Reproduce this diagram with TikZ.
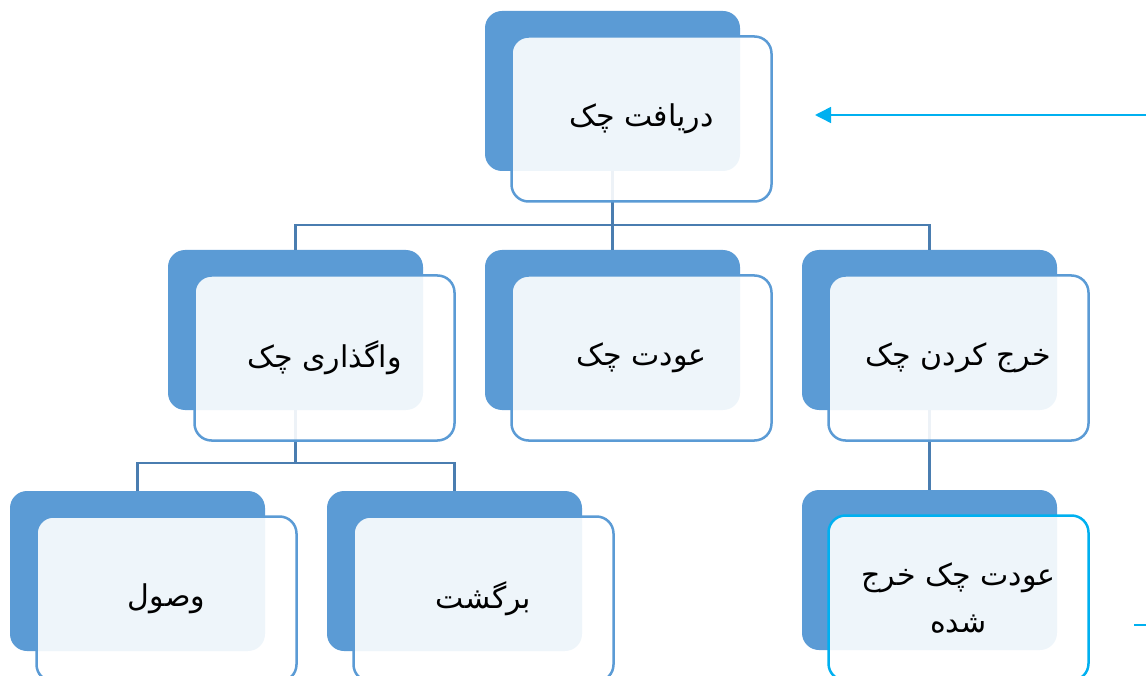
\documentclass[tikz,border=0pt]{standalone}
\usepackage{fontspec}
\newfontfamily\arabicfont[Script=Arabic]{DejaVu Sans}
\TeXXeTstate=1
\usetikzlibrary{arrows.meta,positioning}
\definecolor{boxblue}{HTML}{5B9BD5}
\definecolor{linkblue}{HTML}{4A7DB0}
\definecolor{brightcyan}{HTML}{00B0F0}

\begin{document}
\begin{tikzpicture}[
  backbox/.style={fill=boxblue, rounded corners=17pt, minimum width=255pt, minimum height=160pt, outer sep=0pt, inner sep=0pt},
  frontbox/.style={draw=boxblue, line width=2.5pt, fill=white, fill opacity=0.9, text opacity=1, rounded corners=17pt, minimum width=260pt, minimum height=165pt, outer sep=0pt, align=center, font=\arabicfont\fontsize{30}{47}\selectfont},
  link/.style={draw=linkblue, line width=2.5pt},
  cyanarr/.style={-{Triangle[length=16pt,width=16pt]}, draw=brightcyan, line width=1.5pt}
]
\useasboundingbox (0,0) rectangle (1146pt,-676pt);
% back boxes
\node[backbox] (top) at (612.5pt,-91pt) {};
\node[backbox, below=79pt of top] (mid) {};
\node[backbox, left=62pt of mid] (lft) {};
\node[backbox, right=62pt of mid] (rgt) {};
\node[backbox] (ch1) at (137.5pt,-571pt) {};
\node[backbox, right=62pt of ch1] (ch2) {};
\node[backbox, below=80pt of rgt] (ch3) {};
% connectors
\draw[link] (top.south) -- (mid.north);
\draw[link] (top.south) -- ++(0,-54pt) -| (lft.north);
\draw[link] (top.south) -- ++(0,-54pt) -| (rgt.north);
\draw[link] (lft.south) -- ++(0,-53pt) -| (ch1.north);
\draw[link] (lft.south) -- ++(0,-53pt) -| (ch2.north);
\draw[link] (rgt.south) -- (ch3.north);
% front boxes
\node[frontbox] (topf) at ([shift={(29pt,-28pt)}]top) {\beginR دریافت چک\endR};
\node[frontbox] (midf) at ([shift={(29pt,-28pt)}]mid) {\beginR عودت چک\endR};
\node[frontbox] (lftf) at ([shift={(29pt,-28pt)}]lft) {\beginR واگذاری چک\endR};
\node[frontbox] (rgtf) at ([shift={(29pt,-28pt)}]rgt) {\beginR خرج کردن چک\endR};
\node[frontbox] (ch1f) at ([shift={(29pt,-28pt)}]ch1) {\beginR وصول\endR};
\node[frontbox] (ch2f) at ([shift={(29pt,-28pt)}]ch2) {\beginR برگشت\endR};
\node[frontbox, draw=brightcyan] (ch3f) at ([shift={(29pt,-28pt)}]ch3) {\beginR عودت چک خرج\endR\\\beginR شده\endR};
% arrows on the right
\coordinate (arrfrom) at (1146pt,-115pt);
\coordinate (arrto) at (815pt,-115pt);
\draw[cyanarr] (arrfrom) -- (arrto);
\coordinate (stubA) at (1134pt,-625pt);
\coordinate (stubB) at (1146pt,-625pt);
\draw[draw=brightcyan, line width=1.5pt] (stubA) -- (stubB);
\end{tikzpicture}
\end{document}
